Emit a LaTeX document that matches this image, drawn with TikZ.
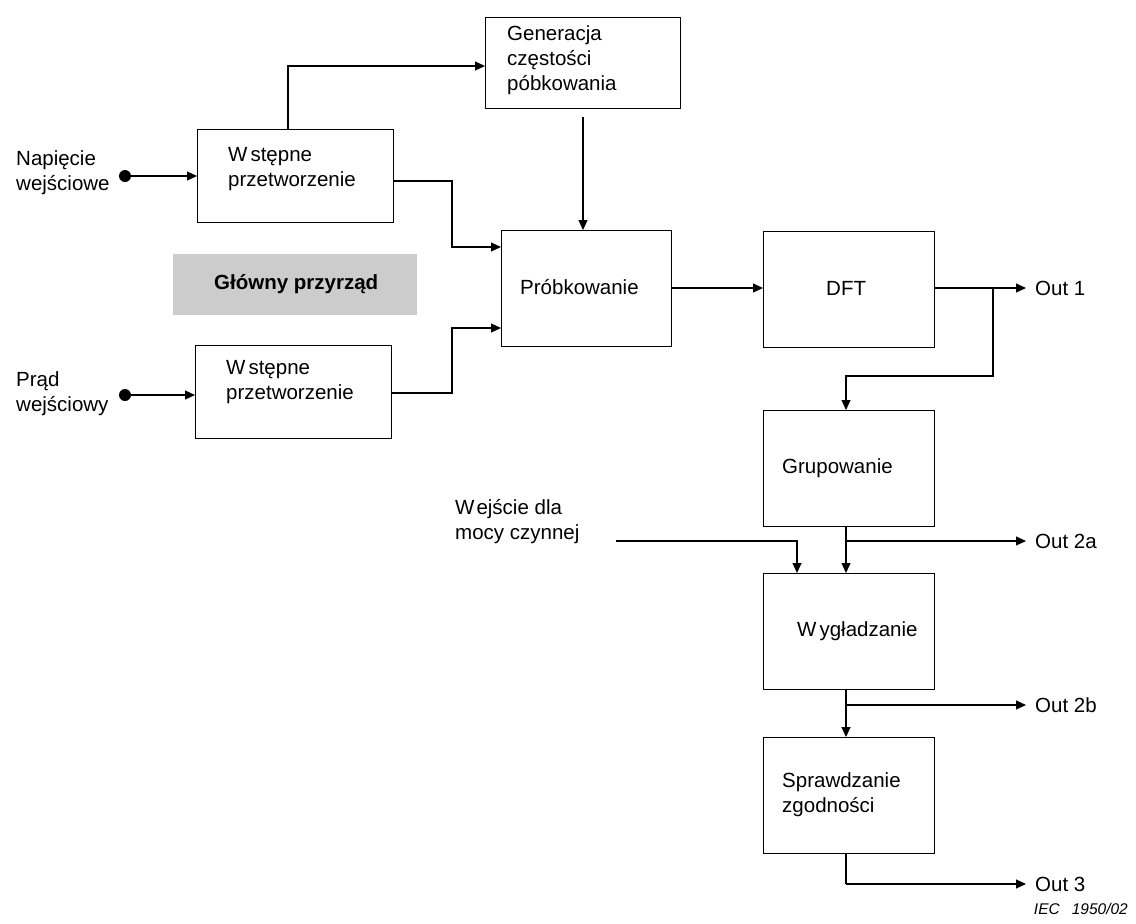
\documentclass[tikz,border=0pt]{standalone}
\usepackage{fontspec}
\setmainfont{Liberation Sans}
\usetikzlibrary{arrows.meta}
\begin{document}
\begin{tikzpicture}[x=1pt,y=-1pt,
  box/.style={draw,line width=1.3pt,rectangle,inner sep=0pt,anchor=north west},
  txt/.style={anchor=west,inner sep=0pt,font=\fontsize{20.5}{25}\selectfont,align=left},
  con/.style={line width=1.1pt,-{Triangle[length=10pt,width=9pt]}},
  ln/.style={line width=1.1pt},
  dot/.style={circle,fill=black,inner sep=0pt,minimum size=12pt}]
\useasboundingbox (0,0) rectangle (1136,924);
% boxes
\node[box,minimum width=195pt,minimum height=91pt] (gen) at (485,17) {};
\node[box,minimum width=196pt,minimum height=93pt] (w1) at (197,129) {};
\node[box,minimum width=196pt,minimum height=93pt] (w2) at (195,345) {};
\node[box,minimum width=170pt,minimum height=116pt] (prob) at (501,230) {};
\node[box,minimum width=171pt,minimum height=116pt] (dft) at (763,231) {};
\node[box,minimum width=171pt,minimum height=116pt] (grup) at (763,410) {};
\node[box,minimum width=171pt,minimum height=116pt] (wyg) at (763,573) {};
\node[box,minimum width=171pt,minimum height=116pt] (spr) at (763,737) {};
\node[fill=black!20,minimum width=244pt,minimum height=61pt,inner sep=0pt,anchor=north west] (glow) at (173,254) {};
% texts
\node[txt] (tgen) at (507,60) {Generacja\\częstości\\póbkowania};
\node[txt] (tw1) at (228,169) {W\hspace{3pt}stępne\\przetworzenie};
\node[txt] (tw2) at (226,382) {W\hspace{3pt}stępne\\przetworzenie};
\node[txt] (tnap) at (16,173) {Napięcie\\wejściowe};
\node[txt] (tpr) at (16,394) {Prąd\\wejściowy};
\node[txt,font=\fontsize{20.5}{25}\selectfont\bfseries] (tglow) at (214,284) {Główny przyrząd};
\node[txt] (tprob) at (520,287) {Próbkowanie};
\node[txt] (tdft) at (826,288) {DFT};
\node[txt] (tgrup) at (782,468) {Grupowanie};
\node[txt] (twyg) at (797,631) {W\hspace{3pt}ygładzanie};
\node[txt] (tspr) at (782,795) {Sprawdzanie\\zgodności};
\node[txt] (twej) at (455,522) {W\hspace{2pt}ejście dla\\mocy czynnej};
\node[txt] (o1) at (1035,288) {Out 1};
\node[txt] (o2a) at (1035,541) {Out 2a};
\node[txt] (o2b) at (1035,705) {Out 2b};
\node[txt] (o3) at (1035,884) {Out 3};
\node[anchor=east,inner sep=0pt,font=\fontsize{15.5}{18}\selectfont\itshape] (iec) at (1128,909) {IEC\hspace{12pt}1950/02};
% dots
\node[dot] (d1) at (125,176) {};
\node[dot] (d2) at (125,395) {};
% coordinates
\coordinate (gbot) at (583,117);
\coordinate (wejs) at (616,541);
% connectors
\draw[con] (d1) -- (d1 -| w1.west);
\draw[con] (d2) -- (d2 -| w2.west);
\draw[con] (w1.north -| 288,0) -- (288,66) -- (gen.west |- 0,66);
\draw[con] (gbot) -- (gbot |- prob.north);
\draw[con] (w1.east |- 0,181) -- (452,181) -- (452,247) -- (prob.west |- 0,247);
\draw[con] (w2.east |- 0,393) -- (452,393) -- (452,328) -- (prob.west |- 0,328);
\draw[con] (prob.east |- 0,288) -- (dft.west |- 0,288);
\draw[con] (dft.east |- 0,288) -- (o1.west -| 1026,0) ;
\draw[con] (993,288) -- (993,376) -- (846,376) -- (grup.north -| 846,0);
\draw[con] (grup.south -| 846,0) -- (wyg.north -| 846,0);
\draw[con] (846,541) -- (1026,541);
\draw[con] (wejs) -- (797,541) -- (wyg.north -| 797,0);
\draw[con] (wyg.south -| 846,0) -- (spr.north -| 846,0);
\draw[con] (846,705) -- (1026,705);
\draw[ln] (spr.south -| 846,0) -- (846,884);
\draw[con] (846,884) -- (1026,884);
\end{tikzpicture}
\end{document}
